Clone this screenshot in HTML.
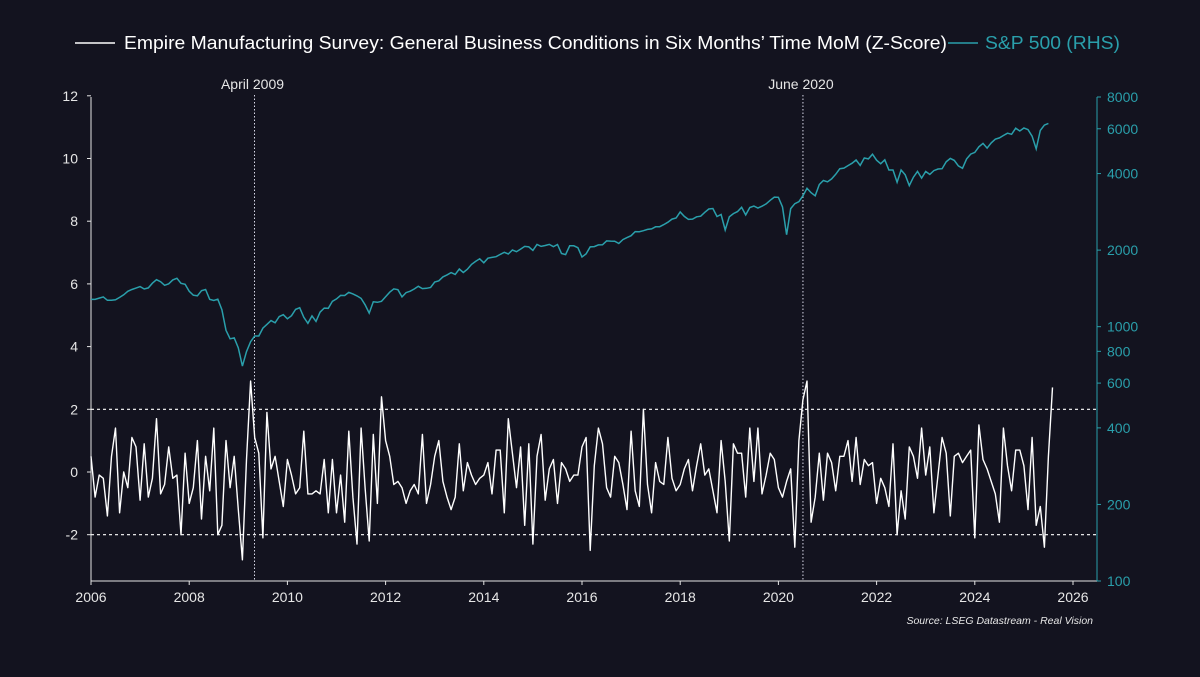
<!DOCTYPE html>
<html><head><meta charset="utf-8">
<style>
html,body{margin:0;padding:0;background:#13131f;}
svg{display:block;font-family:"Liberation Sans",sans-serif;}
</style></head>
<body>
<svg id="chart" width="1200" height="677" viewBox="0 0 1200 677">
<rect width="1200" height="677" fill="#13131f"/>
</svg>
<script>
const yearTicks=[2006,2008,2010,2012,2014,2016,2018,2020,2022,2024,2026];
const leftTicks=[-2,0,2,4,6,8,10,12];
const rightTicks=[100,200,400,600,800,1000,2000,4000,6000,8000];
const zscore=[
0.5,-0.8,-0.1,-0.2,-1.4,0.5,1.4,-1.3,0,-0.5,1.1,0.8,
-0.9,0.9,-0.8,-0.2,1.7,-0.7,-0.4,0.8,-0.2,-0.1,-2.0,0.6,
-1.0,-0.5,1.0,-1.5,0.5,-0.6,1.4,-2.0,-1.7,1.0,-0.5,0.5,
-1.2,-2.8,0.4,2.9,1.1,0.6,-2.1,1.9,0.1,0.5,-0.3,-1.1,
0.4,-0.1,-0.7,-0.5,1.3,-0.7,-0.7,-0.6,-0.7,0.4,-1.3,0.4,
-1.3,-0.1,-1.6,1.3,-0.8,-2.3,1.4,-0.5,-2.2,1.2,-1.0,2.4,
1.0,0.5,-0.4,-0.3,-0.5,-1.0,-0.6,-0.4,-0.7,1.2,-1.0,-0.4,
0.5,1.0,-0.3,-0.8,-1.2,-0.8,0.9,-0.6,0.3,
-0.1,-0.4,-0.2,-0.1,0.3,-0.7,0.7,0.7,-1.3,1.7,
0.6,-0.5,0.8,-1.7,0.9,-2.3,0.5,1.2,-0.9,0.1,0.4,
-1.0,0.3,0.1,-0.3,-0.1,-0.1,0.8,1.1,-2.5,0.2,1.4,0.9,
-0.5,-0.8,0.5,0.3,-0.4,-1.2,1.3,-0.6,-1.1,2.0,-0.4,-1.3,
0.3,-0.3,-0.4,1.1,-0.2,-0.6,-0.4,0.1,0.4,-0.6,0.2,0.9,
-0.1,0.1,-0.6,-1.3,1.0,-0.3,-2.2,0.9,0.6,0.6,-0.8,1.4,
-0.3,1.4,-0.7,-0.1,0.6,0.4,-0.5,-0.8,-0.3,0.1,-2.4,1.0,
2.3,2.9,-1.6,-0.8,0.6,-0.9,0.6,0.3,-0.6,0.5,0.5,1.0,
-0.3,1.1,-0.4,0.4,0.2,0.3,-1.0,-0.2,-0.5,-1.1,0.9,-2.0,
-0.6,-1.5,0.8,0.5,-0.2,1.4,-0.1,0.8,-1.3,-0.1,1.1,0.6,
-1.4,0.5,0.6,0.3,0.5,0.7,-2.1,1.5,0.4,0.1,-0.3,
-0.7,-1.6,1.4,0.2,-0.6,0.7,0.7,0.2,-1.2,1.1,-1.7,-1.1,
-2.4,0.5,2.7];
const spx=[
1280,1280,1295,1310,1270,1270,1276,1304,1335,1378,1400,1418,
1438,1406,1420,1482,1530,1503,1455,1474,1527,1549,1481,1468,
1378,1330,1322,1385,1400,1280,1267,1283,1166,968,896,903,
826,700,798,873,919,919,987,1021,1057,1036,1096,1115,
1074,1104,1169,1187,1089,1031,1102,1049,1141,1183,1181,1258,
1286,1327,1326,1364,1345,1321,1292,1219,1131,1253,1247,1258,
1312,1366,1408,1398,1310,1362,1379,1407,1441,1412,1416,1426,
1498,1515,1569,1598,1631,1606,1686,1633,1682,1757,1806,1848,
1783,1859,1872,1884,1924,1960,1931,2003,1972,2018,2068,2059,
1995,2105,2068,2086,2107,2063,2104,1940,1920,2079,2080,2044,
1880,1932,2060,2065,2097,2099,2174,2171,2168,2126,2199,2239,
2279,2364,2363,2384,2412,2423,2470,2472,2519,2575,2648,2674,
2824,2714,2641,2648,2705,2718,2816,2902,2914,2712,2760,2400,
2704,2784,2834,2946,2752,2942,2980,2926,2977,3038,3141,3231,
3226,2954,2300,2912,3044,3100,3271,3500,3363,3270,3622,3756,
3714,3811,3973,4181,4204,4298,4395,4523,4308,4605,4567,4766,
4516,4374,4530,4132,4132,3700,4130,3955,3586,3872,4080,3840,
4077,3970,4109,4169,4180,4450,4589,4508,4288,4194,4568,4770,
4846,5096,5254,5036,5278,5460,5522,5648,5762,5705,6032,5882,
6041,5955,5612,5000,5912,6205,6300];
const events=[{label:"April 2009",t:2009.33},{label:"June 2020",t:2020.5}];

const NS="http://www.w3.org/2000/svg";
const svg=document.getElementById('chart');
const X0=91,X1=1073,RX=1097,AXY=581;
function xs(t){return X0+(t-2006)/20*(X1-X0);}
function yl(v){return 472-v*31.35;}
function yr(v){return 581-(Math.log10(v)-2)/(Math.log10(8000)-2)*484;}
function mk(tag,attrs,parent){const e=document.createElementNS(NS,tag);for(const k in attrs)e.setAttribute(k,attrs[k]);(parent||svg).appendChild(e);return e;}

let a=mk('line',{x1:X0,y1:97,x2:X0,y2:AXY,stroke:'#e6e6e6','stroke-width':1});


a=mk('line',{x1:X0,y1:AXY,x2:RX,y2:AXY,stroke:'#e6e6e6','stroke-width':1});


a=mk('line',{x1:RX,y1:97,x2:RX,y2:AXY,stroke:'#2a9fab','stroke-width':1});



yearTicks.forEach(y=>{
  const x=xs(y);
  mk('line',{x1:x,y1:AXY,x2:x,y2:AXY+4,stroke:'#e6e6e6'});
  const t=mk('text',{x:x,y:AXY+21,fill:'#e6e6e6','font-size':14,'text-anchor':'middle'});
  t.textContent=y;
  
  
});
leftTicks.forEach(v=>{
  const y=yl(v);
  mk('line',{x1:X0-4,y1:y,x2:X0,y2:y,stroke:'#e6e6e6'});
  const t=mk('text',{x:X0-13,y:y+5,fill:'#e6e6e6','font-size':14,'text-anchor':'end'});
  t.textContent=v;
  
  
});
rightTicks.forEach(v=>{
  const y=yr(v);
  mk('line',{x1:RX,y1:y,x2:RX+4,y2:y,stroke:'#2a9fab'});
  const t=mk('text',{x:RX+10,y:y+5,fill:'#2a9fab','font-size':14});
  t.textContent=v;
  
  
});

[2,-2].forEach(v=>{
  const l=mk('line',{x1:X0,y1:yl(v),x2:RX,y2:yl(v),stroke:'#ffffff','stroke-width':1.2,'stroke-dasharray':'3,3'});
  
  
});

events.forEach(e=>{
  const x=xs(e.t);
  const l=mk('line',{x1:x,y1:95,x2:x,y2:AXY,stroke:'#d8d8e8','stroke-width':1,'stroke-dasharray':'1.5,2'});
  
  
  const t=mk('text',{x:x-2,y:89,fill:'#e6e6e6','font-size':14,'text-anchor':'middle'});
  t.textContent=e.label;
  
  
});

let d=spx.map((v,i)=>(i?'L':'M')+xs(2006+i/12).toFixed(1)+','+yr(v).toFixed(1)).join('');
let p=mk('path',{d:d,fill:'none',stroke:'#2a9fab','stroke-width':1.5});



d=zscore.map((v,i)=>(i?'L':'M')+xs(2006+i/12).toFixed(1)+','+yl(v).toFixed(1)).join('');
p=mk('path',{d:d,fill:'none',stroke:'#ffffff','stroke-width':1.4,'stroke-linejoin':'round'});



let g=mk('g',{});


mk('line',{x1:75,y1:43,x2:115,y2:43,stroke:'#ffffff','stroke-width':1.5},g);
let t=mk('text',{x:124,y:49,fill:'#ffffff','font-size':18.5,textLength:823,lengthAdjust:'spacingAndGlyphs'},g);
t.textContent='Empire Manufacturing Survey: General Business Conditions in Six Months\u2019 Time MoM (Z-Score)';


mk('line',{x1:948,y1:43,x2:978,y2:43,stroke:'#2a9fab','stroke-width':1.5},g);
t=mk('text',{x:985,y:49,fill:'#2a9fab','font-size':18.5,textLength:135,lengthAdjust:'spacingAndGlyphs'},g);
t.textContent='S&P 500 (RHS)';



t=mk('text',{x:1093,y:624,fill:'#e6e6e6','font-size':10.5,'font-style':'italic','text-anchor':'end'});
t.textContent='Source: LSEG Datastream - Real Vision';


</script>
</body></html>
